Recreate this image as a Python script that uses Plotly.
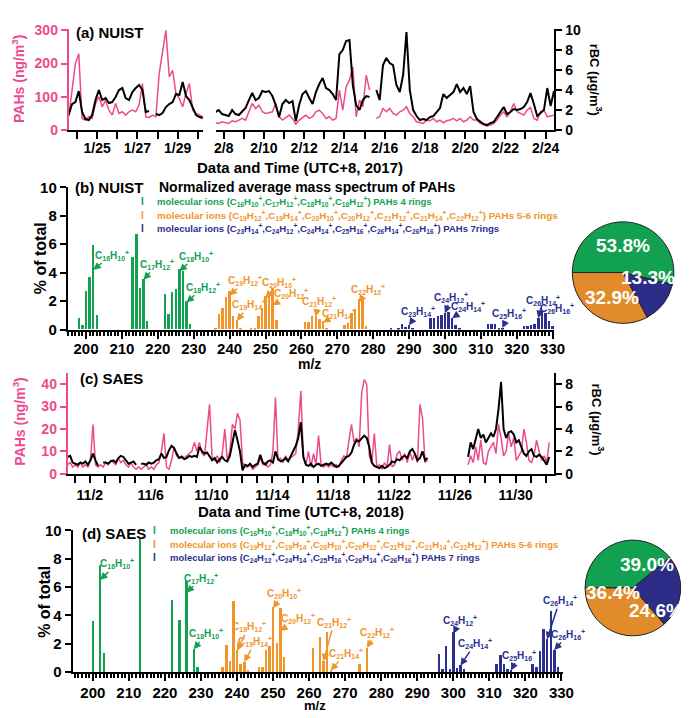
import plotly.graph_objects as go
import pandas as pd

W, H = 692, 718
def px(x): return x / W
def py(y): return 1 - y / H

# ---------------- DATA ----------------
# Panel (a) NUIST 2017, 4-hourly readings, segment 1 (from 1/23 14:00) and segment 2 (from 2/7 14:00)
a_pah_1 = [40,130,200,230,35,30,40,35,80,100,70,90,60,45,80,50,55,45,55,60,55,75,140,40,38,45,40,170,240,300,
           160,180,110,95,70,110,140,60,50,45,40]
a_rbc_1 = [1.5,2.6,2.8,3.9,1.8,1.1,1.0,1.5,3.0,4.0,3.0,3.2,2.7,2.8,3.3,4.0,4.2,3.2,3.0,3.8,4.2,4.5,4.0,1.8,1.9,None,
           1.6,1.5,1.7,2.3,2.6,2.8,3.6,3.5,4.8,3.4,3.0,2.2,1.5,1.3,1.2]
a_pah_2 = [22,20,25,22,20,28,25,30,35,30,
           55,80,65,75,55,50,52,55,80,40,
           30,38,45,35,18,30,38,45,35,40,
           55,60,50,35,40,30,35,120,60,130,
           150,190,40,90,70,165,120,None,35,40,
           65,55,65,50,45,55,60,70,50,40,
           25,22,20,30,28,35,25,30,22,28,
           30,35,28,35,25,30,40,30,30,20,
           15,12,15,20,30,45,55,40,55,80,
           55,50,45,60,68,35,30,55,60,40,
           42,45]
a_rbc_2 = [1.8,2.0,1.6,1.5,1.4,2.0,1.6,1.5,1.8,2.2,
           3.0,3.7,3.0,3.2,3.9,3.8,3.9,3.4,2.5,1.3,
           2.6,3.0,2.7,2.9,0.9,2.5,3.6,3.9,3.2,2.6,
           3.8,4.6,5.2,4.2,4.0,3.6,3.0,7.6,8.0,8.9,
           9.0,4.5,2.5,2.0,3.0,3.4,3.3,None,4.0,3.0,
           6.5,7.2,6.7,6.5,4.5,3.8,5.5,9.8,4.0,2.0,
           1.4,1.0,1.1,1.0,1.3,1.4,1.8,2.2,3.6,3.2,
           3.5,3.8,4.6,3.8,4.2,3.6,4.4,1.8,1.1,0.8,
           0.6,0.5,0.7,0.8,1.3,1.9,2.3,1.6,1.8,2.1,
           2.0,2.1,2.3,2.8,3.7,2.6,1.4,1.7,2.0,4.2,
           2.4,3.9]

# Panel (c) SAES 2018, 4-hourly readings from 10/31 13:00
N = None
c_pah = [4,5,3,4,3,5,3,4,3,6,
         22,4,3,4,3,5,4,6,5,4,
         7,5,6,4,3,5,3,2,3,2,
         3,4,2,3,2,4,5,10,18,3,
         2,6,12,8,7,8,7,8,9,10,
         14,10,14,9,8,20,31,7,6,8,
         5,9,20,6,10,22,20,27,24,5,
         3,3,4,2,3,4,7,4,5,3,
         4,10,34,6,7,5,8,6,7,8,
         9,20,37,8,4,10,3,9,4,17,
         4,3,4,3,4,3,4,3,6,8,
         7,15,22,14,16,12,36,42,40,8,
         5,18,3,4,2,5,3,13,3,4,
         9,10,6,9,5,10,6,9,5,31,
         25,5,6,N,N,N,N,N,N,N,
         N,N,N,N,N,N,N,N,4,8,
         5,12,6,15,5,4,10,12,14,9,
         22,16,8,10,18,12,16,6,8,10,
         20,14,6,5,8,15,10,6,8,5,
         14]
c_rbc = [1.5,1.6,1.0,0.9,0.8,1.0,0.9,1.1,0.8,1.2,
         1.8,1.2,0.7,N,1.0,1.0,0.9,1.1,1.2,1.0,
         1.4,1.6,1.5,1.2,0.9,1.0,1.1,0.8,N,0.9,
         0.9,0.8,1.0,0.9,1.0,1.2,1.3,1.8,1.4,1.5,
         2.1,2.5,2.3,1.8,1.4,1.5,1.3,1.4,1.6,1.5,
         1.6,1.5,2.4,2.0,1.8,1.9,1.5,1.2,1.4,1.0,
         1.3,1.5,1.2,1.1,1.6,2.8,3.9,3.0,2.0,0.3,
         0.8,0.7,0.9,0.6,0.8,0.9,1.7,1.0,0.8,1.1,
         1.2,1.0,2.0,1.3,1.1,1.2,1.4,1.1,1.6,2.0,
         2.5,3.2,4.6,1.5,0.8,0.7,0.9,0.6,0.8,0.9,
         0.7,0.8,0.9,0.8,1.0,0.8,0.6,0.7,1.0,1.2,
         1.5,1.6,1.9,2.6,3.0,2.9,3.2,3.4,3.2,2.4,
         1.0,0.7,0.6,0.5,0.7,0.5,0.6,0.8,1.1,1.0,
         1.3,1.2,1.5,1.6,1.4,2.0,2.2,1.8,1.2,1.4,
         2.0,1.2,1.4,N,N,N,N,N,N,N,
         N,N,N,N,N,N,N,N,1.5,2.8,
         2.2,3.0,4.0,3.2,3.5,2.8,3.2,3.6,3.3,4.0,
         5.8,8.2,4.0,3.2,3.7,3.8,3.5,2.8,3.0,2.4,
         1.8,1.6,2.0,2.2,1.6,1.5,1.7,1.5,1.1,0.8,
         1.5]

# Panel (b) NUIST mass spectrum (% of total)
b_g_mz = [198,199,200,201,202,203,213,214,215,216,217,222,223,224,225,226,227,228,229]
b_g_val = [0.8,0.3,2.7,3.65,5.9,1.0,5.1,6.7,2.9,3.5,0.6,2.5,1.1,2.6,2.8,4.2,4.1,2.0,0.35]
b_o_mz = [236,237,238,239,240,241,242,243,246,247,248,249,250,251,252,253,261,262,263,264,265,266,267,
          272,273,274,275,276,277,278]
b_o_val = [0.1,1.05,1.5,2.25,2.65,0.9,0.65,0.1,0.1,0.1,0.9,1.5,2.3,2.6,2.9,0.65,0.5,0.5,0.95,0.95,0.7,0.55,0.1,
           0.3,0.45,1.15,1.4,2.1,2.15,0.25]
b_b_mz = [285,287,288,289,290,291,296,297,298,299,300,301,302,303,304,312,313,314,315,316,
          322,323,324,325,326,327,328,329,330]
b_b_val = [0.1,0.1,0.35,0.15,0.3,0.1,0.8,0.8,0.9,1.0,1.15,1.2,0.8,0.3,0.1,0.35,0.35,0.35,0.1,0.1,
           0.2,0.2,0.3,0.35,0.8,1.25,1.15,0.55,0.2]

# Panel (d) SAES mass spectrum (% of total)
d_g_mz = [200,202,203,213,222,224,226,228,229]
d_g_val = [3.6,7.5,1.3,9.35,5.05,3.65,6.4,1.6,0.35]
d_o_mz = [236,237,238,239,240,241,242,243,246,247,248,249,250,251,252,253,261,263,264,265,266,274,276]
d_o_val = [0.3,1.9,0.75,5.0,1.5,0.5,0.7,0.1,0.3,0.3,1.55,1.8,4.55,2.0,4.5,1.0,1.65,2.45,0.75,2.8,0.1,0.55,1.7]
d_b_mz = [296,297,298,299,300,301,302,303,312,313,314,315,316,322,323,324,325,326,327,328,329]
d_b_val = [1.25,0.2,1.8,0.2,2.8,0.25,0.45,0.2,0.5,1.15,0.5,0.15,0.1,0.55,0.3,1.45,3.0,2.3,4.3,1.55,0.35]

# Pie shares
pie_labels = ["PAHs 4 rings", "PAHs 5-6 rings", "PAHs 7 rings"]
pie_b = [53.8, 32.9, 13.3]
pie_d = [39.0, 36.4, 24.6]

# ---------------- STYLE ----------------
PINK = '#ec4a8d'
GREEN = '#12a150'
ORANGE = '#f0952a'
BLUE = '#2b2f8e'
PIE_COLS = ['#12a150', '#e28b2b', '#2b2d88']
FONT = 'Liberation Sans, Arial, sans-serif'
DAY = 86400000

def bold(size, color='black'):
    return dict(family=FONT, size=size, color=color, weight='bold')

fig = go.Figure()

t1 = pd.date_range('2017-01-23 14:00', periods=len(a_pah_1), freq='4h')
t2 = pd.date_range('2017-02-07 14:00', periods=len(a_pah_2), freq='4h')
tc = pd.date_range('2018-10-31 13:00', periods=len(c_pah), freq='4h')

def line(x, y, xa, ya, color, w):
    fig.add_trace(go.Scatter(x=x, y=y, xaxis=xa, yaxis=ya, mode='lines',
                             line=dict(color=color, width=w), showlegend=False, hoverinfo='skip'))

# panel (a): y = PAHs (left), y2 = rBC (right)
line(t1, a_pah_1, 'x', 'y', PINK, 1.5)
line(t2, a_pah_2, 'x2', 'y', PINK, 1.5)
line(t1, a_rbc_1, 'x', 'y2', 'black', 2)
line(t2, a_rbc_2, 'x2', 'y2', 'black', 2)
# panel (c): y4 = PAHs, y5 = rBC
line(tc, c_pah, 'x4', 'y4', PINK, 1.5)
line(tc, c_rbc, 'x4', 'y5', 'black', 2)

def bars(x, y, xa, ya, color):
    fig.add_trace(go.Bar(x=x, y=y, xaxis=xa, yaxis=ya, marker=dict(color=color, line=dict(width=0)),
                         width=0.55, showlegend=False, hoverinfo='skip'))

bars(b_g_mz, b_g_val, 'x3', 'y3', GREEN)
bars(b_o_mz, b_o_val, 'x3', 'y3', ORANGE)
bars(b_b_mz, b_b_val, 'x3', 'y3', BLUE)
bars(d_g_mz, d_g_val, 'x5', 'y6', GREEN)
bars(d_o_mz, d_o_val, 'x5', 'y6', ORANGE)
bars(d_b_mz, d_b_val, 'x5', 'y6', BLUE)

for vals, dom in [(pie_b, dict(x=[px(581), px(685)], y=[py(322), py(218)])),
                  (pie_d, dict(x=[px(594), px(692)], y=[py(642), py(544)]))]:
    fig.add_trace(go.Pie(labels=pie_labels, values=vals, sort=False, direction='counterclockwise',
                         rotation=-90, textinfo='none', hoverinfo='skip', showlegend=False,
                         marker=dict(colors=PIE_COLS, line=dict(color='#222222', width=1)),
                         domain=dom))

# ---------------- AXES ----------------
def date_x(dom, rng, tick0, dtick_days, minor0, anchor, standoff):
    return dict(domain=dom, range=rng, anchor=anchor, type='date', showline=True, linewidth=2,
                linecolor='black', ticks='outside', ticklen=7, tickwidth=2, tickcolor='black',
                tick0=tick0, dtick=dtick_days * DAY, tickformat='%-m/%-d', tickfont=bold(14),
                minor=dict(dtick=DAY, tick0=minor0, ticks='outside', ticklen=7, tickwidth=2, tickcolor='black'),
                showgrid=False, zeroline=False, ticklabelstandoff=standoff)

def val_y(dom, rng, dtick, anchor, color='black', side='left', size=14):
    return dict(domain=dom, range=rng, anchor=anchor, side=side, showline=True, linewidth=2,
                linecolor=color, ticks='outside', ticklen=6, tickwidth=2, tickcolor=color,
                dtick=dtick, tickfont=bold(size, color), showgrid=False, zeroline=False)

def mz_x(dom, rng, anchor, standoff):
    return dict(domain=dom, range=rng, anchor=anchor, showline=True, linewidth=2, linecolor='black',
                ticks='outside', ticklen=7, tickwidth=2, tickcolor='black', tick0=200, dtick=10,
                tickfont=bold(15), showgrid=False, zeroline=False, ticklabelstandoff=standoff,
                minor=dict(dtick=1, ticks='outside', ticklen=4, tickwidth=1.5, tickcolor='black'))

dom_a = [py(124), py(20.5)]
dom_c = [py(476), py(373.3)]

fig.update_layout(
    width=W, height=H, margin=dict(l=0, r=0, t=0, b=0, pad=0),
    paper_bgcolor='white', plot_bgcolor='white', barmode='overlay', bargap=0,
    font=dict(family=FONT),
    xaxis=date_x([px(68), px(205)], ['2017-01-23 14:03', '2017-01-30 06:26'], '2017-01-25', 2, '2017-01-24', 'y', -3),
    xaxis2=date_x([px(218), px(563)], ['2017-02-07 14:38', '2017-02-24 10:32'], '2017-02-08', 2, '2017-02-07', 'y', -3),
    yaxis=val_y(dom_a, [0, 304], 100, 'x', PINK, size=14),
    yaxis2=dict(val_y(dom_a, [0, 10.1], 2, 'x2', 'black', 'right'), overlaying='y'),
    xaxis3=mz_x([px(67), px(563)], [194.9, 330.5], 'y3', -3),
    yaxis3=val_y([py(328.3), py(182.7)], [0, 10], 2, 'x3', size=15),
    xaxis4=date_x([px(67), px(563)], ['2018-10-31 13:10', '2018-12-02 13:12'], '2018-11-02', 4, '2018-11-01', 'y4', 0),
    yaxis4=val_y(dom_c, [0, 44.8], 10, 'x4', PINK, size=14),
    yaxis5=dict(val_y(dom_c, [0, 8.96], 2, 'x4', 'black', 'right'), overlaying='y4'),
    xaxis5=mz_x([px(72), px(572)], [194.4, 330.5], 'y6', -1),
    yaxis6=val_y([py(679), py(534)], [0, 10], 2, 'x5', size=15),
)

ann = []
def text(x, y, t, font, xanchor='center', angle=0):
    ann.append(dict(x=px(x), y=py(y), xref='paper', yref='paper', text=t, showarrow=False,
                    font=font, xanchor=xanchor, yanchor='middle', textangle=angle))

# panel labels and titles
text(73, 24, '(a) NUIST', bold(15), 'left')
text(72, 183, '(b) NUIST', bold(15), 'left')
text(77, 378, '(c) SAES', bold(15), 'left')
text(80, 537, '(d) SAES', bold(15), 'left')
text(17, 72, 'PAHs (ng/m<sup>3</sup>)', bold(14, PINK), angle=-90)
text(605, 72, 'rBC (μg/m<sup>3</sup>)', bold(13), angle=90)
text(17, 423, 'PAHs (ng/m<sup>3</sup>)', bold(14, PINK), angle=-90)
text(607, 420, 'rBC (μg/m<sup>3</sup>)', bold(13), angle=90)
text(304, 162, 'Data and Time (UTC+8, 2017)', bold(15))
text(305, 515, 'Data and Time (UTC+8, 2018)', bold(15))
text(40, 255, '% of total', bold(16), angle=-90)
text(43, 607, '% of total', bold(16), angle=-90)
text(313, 364, 'm/z', bold(14))
text(319, 713, 'm/z', bold(13))
text(311, 182, 'Normalized average mass spectrum of PAHs', bold(14))

def ion(c, h):
    return 'C<sub>%d</sub>H<sub>%d</sub><sup>+</sup>' % (c, h)

def legend_row(x_mark, x_text, y, color, ions, suffix, size=9.5):
    text(x_mark, y, 'I', bold(10, color))
    text(x_text, y, 'molecular ions (' + ','.join(ion(c, h) for c, h in ions) + ') ' + suffix,
         bold(size, color), 'left')

legend_row(143, 156, 197, GREEN, [(16, 10), (17, 12), (18, 10), (18, 12)], 'PAHs 4 rings')
legend_row(143, 156, 212, ORANGE, [(19, 12), (19, 14), (20, 10), (20, 12), (21, 12), (21, 14), (22, 12)], 'PAHs 5-6 rings', 9.8)
legend_row(143, 156, 225, BLUE, [(23, 14), (24, 12), (24, 14), (25, 16), (26, 14), (26, 16)], 'PAHs 7rings')
legend_row(155, 169, 534, GREEN, [(16, 10), (18, 10), (18, 12)], 'PAHs 4 rings')
legend_row(155, 169, 548, ORANGE, [(19, 12), (19, 14), (20, 10), (20, 12), (21, 12), (21, 14), (22, 12)], 'PAHs 5-6 rings')
legend_row(155, 169, 562, BLUE, [(24, 12), (24, 14), (25, 16), (26, 14), (26, 16)], 'PAHs 7 rings')

# pie percentages
for x, y, t in [(633, 242, '53.8%'), (658, 275, '13.3%'), (622, 296, '32.9%'),
                (657, 569, '39.0%'), (623, 598, '36.4%'), (667, 616, '24.6%')]:
    text(x, y, t, bold(19, 'white'))

# ion labels with arrows: (c, h, head_mz, head_val, label_mz, label_val, color)
b_labels = [(16, 10, 202, 4.2, 207.2, 5.24, GREEN), (17, 12, 216, 3.5, 219.8, 4.57, GREEN),
            (18, 10, 226, 4.1, 230.7, 5.17, GREEN), (18, 12, 228, 1.9, 232.6, 2.97, GREEN),
            (19, 12, 240, 2.4, 244.4, 3.45, ORANGE), (19, 14, 242, 0.6, 245.5, 1.74, ORANGE),
            (20, 10, 250, 2.2, 253.7, 3.31, ORANGE), (20, 12, 252, 1.7, 257.0, 2.5, ORANGE),
            (21, 12, 264, 0.9, 264.8, 1.98, ORANGE), (21, 14, 266, 0.5, 270.6, 1.15, ORANGE),
            (22, 12, 276, 1.9, 278.6, 2.85, ORANGE),
            (23, 14, 290, 0.3, 292.5, 1.24, BLUE), (24, 12, 300, 1.15, 301.8, 2.28, BLUE),
            (24, 14, 302, 0.8, 306.5, 1.59, BLUE), (25, 16, 316, 0.1, 317.9, 1.12, BLUE),
            (26, 14, 326, 0.8, 327.3, 2.07, BLUE), (26, 16, 328, 1.15, 331.1, 1.47, BLUE)]
d_labels = [(16, 10, 202, 6.5, 206.6, 7.63, GREEN), (17, 12, 226, 5.6, 230.1, 6.62, GREEN),
            (18, 10, 228, 1.6, 231.4, 2.69, GREEN),
            (19, 12, 240, 1.5, 243.3, 3.19, ORANGE), (19, 14, 242, 0.7, 245.1, 2.12, ORANGE),
            (20, 10, 250, 4.5, 252.9, 5.57, ORANGE), (20, 12, 252, 2.9, 257.0, 3.77, ORANGE),
            (21, 12, 264, 0.75, 266.9, 3.5, ORANGE), (21, 14, 266, 0.1, 270.1, 1.31, ORANGE),
            (22, 12, 276, 1.7, 278.7, 2.81, ORANGE),
            (24, 12, 300, 2.7, 301.9, 3.66, BLUE), (24, 14, 302, 0.45, 306.0, 2.0, BLUE),
            (25, 16, 316, 0.1, 318.2, 1.19, BLUE), (26, 14, 326, 2.3, 329.5, 5.03, BLUE),
            (26, 16, 328, 1.55, 331.9, 2.64, BLUE)]

for labels, xr, yr in [(b_labels, 'x3', 'y3'), (d_labels, 'x5', 'y6')]:
    for c, h, hx, hy, lx, ly, col in labels:
        ann.append(dict(x=hx, y=hy, xref=xr, yref=yr, ax=lx, ay=ly, axref=xr, ayref=yr,
                        text=ion(c, h), showarrow=True, arrowhead=2, arrowsize=1, arrowwidth=1.5,
                        arrowcolor=col, font=bold(10, col)))

fig.update_layout(annotations=ann)
fig.write_html('out.html')
